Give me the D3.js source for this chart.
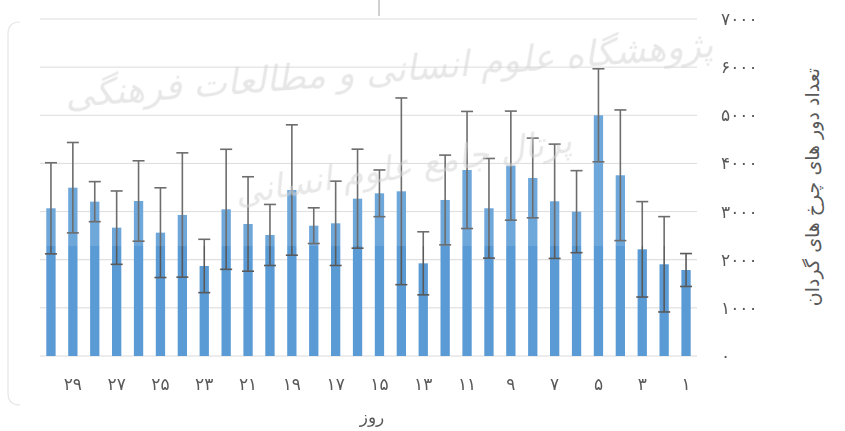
<!DOCTYPE html>
<html>
<head>
<meta charset="utf-8">
<script src="https://cdn.jsdelivr.net/npm/d3@7"></script>
<style>
  body { margin: 0; background: #fff; }
  text { font-family: "DejaVu Sans", "Noto Sans", sans-serif; }
</style>
</head>
<body>
<svg id="chart" width="845" height="431"></svg>
<script>
// day 1..30, mean wheel turns and +/- error
const days = d3.range(1, 31);
const means = [1786, 1905, 2216, 3754, 5000, 2998, 3214, 3698, 3954, 3068,
  3864, 3241, 1925, 3421, 3379, 3268, 2756, 2707, 3448, 2514,
  2742, 3047, 1870, 2929, 2562, 3220, 2666, 3206, 3496, 3068];
const errors = [342, 990, 991, 1357, 966, 852, 1187, 828, 1133, 1035,
  1216, 932, 655, 1939, 485, 1028, 876, 371, 1354, 634,
  981, 1247, 554, 1291, 932, 835, 762, 416, 939, 946];
const yTicks = [0, 1000, 2000, 3000, 4000, 5000, 6000, 7000];

const BAR_COLOR = '#5b9bd5';
const GRID_COLOR = '#d9d9d9';
const TEXT_COLOR = '#595959';

const svg = d3.select('#chart');

// persian digits
const fa = (n) => String(n).replace(/\d/g, (c) => '۰۱۲۳۴۵۶۷۸۹'[+c]);

const x = d3.scaleBand()
  .domain(days.slice().reverse())
  .range([40, 697])
  .paddingInner(0.575)
  .paddingOuter(0.2875);

const y = d3.scaleLinear().domain([0, 7000]).range([356, 19]);

// faint chart frame on the left
svg.append('path')
  .attr('d', 'M 20 22 Q 8 22 8 34 L 8 393 Q 8 405 20 405')
  .attr('fill', 'none')
  .attr('stroke', '#e6e6e6')
  .attr('stroke-width', 1.2);

// gridlines
svg.append('g')
  .selectAll('line')
  .data(yTicks)
  .join('line')
  .attr('x1', 40)
  .attr('x2', 697)
  .attr('y1', (d) => y(d))
  .attr('y2', (d) => y(d))
  .attr('stroke', GRID_COLOR)
  .attr('stroke-width', 1);

// bars
svg.append('g')
  .selectAll('rect')
  .data(days)
  .join('rect')
  .attr('x', (d) => x(d))
  .attr('width', x.bandwidth())
  .attr('y', (d) => y(means[d - 1]))
  .attr('height', (d) => y(0) - y(means[d - 1]))
  .attr('fill', BAR_COLOR);

// error bars
const eb = svg.append('g')
  .attr('stroke', TEXT_COLOR)
  .attr('stroke-width', 1.6);

eb.selectAll('line.v')
  .data(days)
  .join('line')
  .attr('class', 'v')
  .attr('x1', (d) => x(d) + x.bandwidth() / 2)
  .attr('x2', (d) => x(d) + x.bandwidth() / 2)
  .attr('y1', (d) => y(means[d - 1] + errors[d - 1]))
  .attr('y2', (d) => y(means[d - 1] - errors[d - 1]));

[1, -1].forEach((s) => {
  eb.selectAll('line.c' + (s > 0 ? 'top' : 'bot'))
    .data(days)
    .join('line')
    .attr('class', 'c' + (s > 0 ? 'top' : 'bot'))
    .attr('x1', (d) => x(d) + x.bandwidth() / 2 - 6)
    .attr('x2', (d) => x(d) + x.bandwidth() / 2 + 6)
    .attr('y1', (d) => y(means[d - 1] + s * errors[d - 1]))
    .attr('y2', (d) => y(means[d - 1] + s * errors[d - 1]));
});

// watermark overlay (lightens the top of the plot like the scanned source)
svg.append('rect')
  .attr('x', 40)
  .attr('y', 0)
  .attr('width', 657)
  .attr('height', 246)
  .attr('fill', '#fff')
  .attr('opacity', 0.12);

const wm = svg.append('g')
  .attr('fill', '#d4d4d4')
  .attr('opacity', 0.55)
  .style('font-style', 'italic');

wm.append('text')
  .attr('transform', 'translate(390, 82) rotate(-4.5)')
  .attr('text-anchor', 'middle')
  .attr('font-size', 36)
  .text('پژوهشگاه علوم انسانی و مطالعات فرهنگی');

wm.append('text')
  .attr('transform', 'translate(405, 178) rotate(-9)')
  .attr('text-anchor', 'middle')
  .attr('font-size', 34)
  .text('پرتال جامع علوم انسانی');

svg.append('line')
  .attr('x1', 379).attr('x2', 379)
  .attr('y1', 0).attr('y2', 16)
  .attr('stroke', '#d0d0d0')
  .attr('stroke-width', 2);

// y tick labels on the right
svg.append('g')
  .selectAll('text')
  .data(yTicks)
  .join('text')
  .attr('x', 721)
  .attr('y', (d) => y(d) + 6)
  .attr('fill', TEXT_COLOR)
  .attr('font-size', 17)
  .attr('text-anchor', 'start')
  .style('letter-spacing', '4px')
  .text((d) => fa(d));

// x tick labels (odd days)
svg.append('g')
  .selectAll('text')
  .data(days.filter((d) => d % 2 === 1))
  .join('text')
  .attr('x', (d) => x(d) + x.bandwidth() / 2)
  .attr('y', 390)
  .attr('fill', TEXT_COLOR)
  .attr('font-size', 17)
  .attr('text-anchor', 'middle')
  .style('letter-spacing', '3px')
  .text((d) => fa(d));

// axis titles
svg.append('text')
  .attr('x', 372)
  .attr('y', 423)
  .attr('fill', TEXT_COLOR)
  .attr('font-size', 17)
  .attr('text-anchor', 'middle')
  .text('روز');

svg.append('text')
  .attr('transform', 'translate(819, 187) rotate(-90)')
  .attr('fill', TEXT_COLOR)
  .attr('font-size', 19)
  .attr('text-anchor', 'middle')
  .text('تعداد دور های چرخ های گردان');
</script>
</body>
</html>
